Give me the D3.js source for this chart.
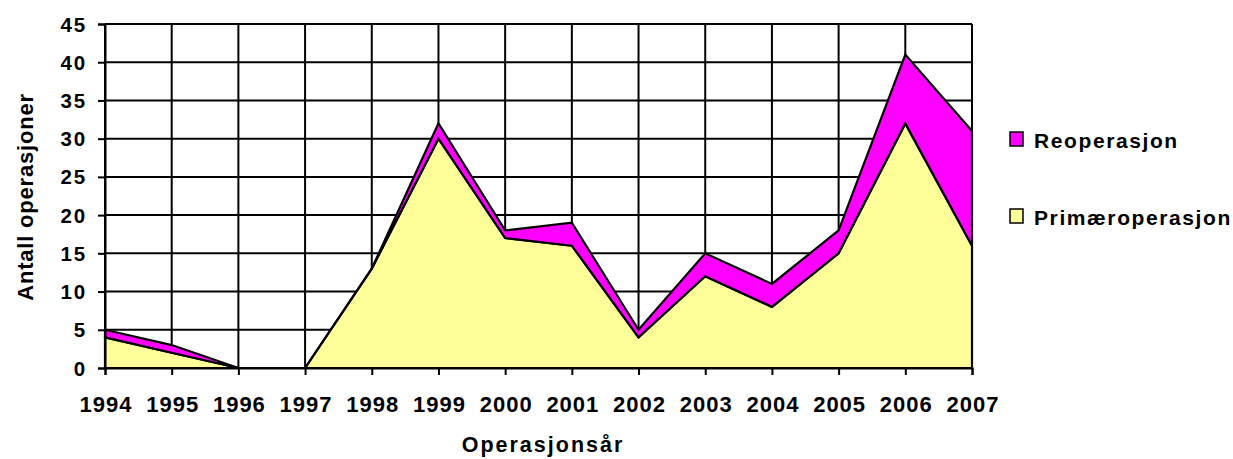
<!DOCTYPE html>
<html>
<head>
<meta charset="utf-8">
<script src="https://cdn.jsdelivr.net/npm/d3@7"></script>
<style>
  body { margin: 0; background: #fff; }
  svg text { font-family: "Liberation Sans", Arial, sans-serif; font-weight: bold; fill: #000; }
</style>
</head>
<body>
<svg id="chart" width="1233" height="459"></svg>
<script>
// Operations per year, split into primary and repeat operations
const years = ["1994","1995","1996","1997","1998","1999","2000","2001","2002","2003","2004","2005","2006","2007"];
const primaer = [4, 2, 0, 0, 13, 30, 17, 16, 4, 12, 8, 15, 32, 16];
const reop    = [1, 1, 0, 0, 0, 2, 1, 3, 1, 3, 3, 3, 9, 15];
const yTicks  = [0, 5, 10, 15, 20, 25, 30, 35, 40, 45];
const seriesNames = ["Reoperasjon", "Primæroperasjon"];
const colors = { "Primæroperasjon": "#ffff99", "Reoperasjon": "#ff00ff" };

const svg = d3.select("#chart");
const m = { left: 105, right: 972, top: 24, bottom: 368 };

const x = d3.scalePoint().domain(years).range([m.left, m.right]);
const y = d3.scaleLinear().domain([0, 45]).range([m.bottom, m.top]);

const rows = years.map((yr, i) => ({ year: yr, "Primæroperasjon": primaer[i], "Reoperasjon": reop[i] }));
const stacked = d3.stack().keys(["Primæroperasjon", "Reoperasjon"])(rows);

// grid
const g = svg.append("g");
g.selectAll(".hg").data(yTicks).join("line")
  .attr("x1", m.left).attr("x2", m.right)
  .attr("y1", d => y(d)).attr("y2", d => y(d))
  .attr("stroke", "#000").attr("stroke-width", 2);
g.selectAll(".vg").data(years).join("line")
  .attr("x1", d => x(d)).attr("x2", d => x(d))
  .attr("y1", m.top).attr("y2", m.bottom)
  .attr("stroke", "#000").attr("stroke-width", 2);

// stacked areas
const area = d3.area()
  .x((d, i) => x(years[i]))
  .y0(d => y(d[0]))
  .y1(d => y(d[1]));
svg.append("g").selectAll("path").data(stacked).join("path")
  .attr("d", area)
  .attr("fill", d => colors[d.key])
  .attr("stroke", "#000").attr("stroke-width", 2.2).attr("stroke-linejoin", "miter");

// axes
const yAxis = d3.axisLeft(y).tickValues(yTicks).tickSize(7);
const ya = svg.append("g").attr("transform", `translate(${m.left},0)`).call(yAxis);
ya.select(".domain").attr("stroke-width", 2);
ya.selectAll("line").attr("stroke-width", 2);
ya.selectAll("text")
  .attr("x", -18).attr("dy", 7)
  .style("font-size", "20.5px").style("letter-spacing", "1.8px")
  .style("font-family", "Liberation Sans, Arial").style("font-weight", "bold");

const xAxis = d3.axisBottom(x).tickSize(7);
const xa = svg.append("g").attr("transform", `translate(0,${m.bottom})`).call(xAxis);
xa.select(".domain").attr("stroke-width", 2);
xa.selectAll("line").attr("stroke-width", 2);
xa.selectAll("text")
  .attr("y", 44).attr("dy", 0).attr("dx", 0.5)
  .style("font-size", "22px").style("letter-spacing", "1px")
  .style("font-family", "Liberation Sans, Arial").style("font-weight", "bold");

// axis titles
svg.append("text")
  .attr("transform", "translate(33,197) rotate(-90)")
  .attr("text-anchor", "middle")
  .style("font-size", "22px").style("letter-spacing", "0.8px")
  .text("Antall operasjoner");
svg.append("text")
  .attr("x", 543).attr("y", 452)
  .attr("text-anchor", "middle")
  .style("font-size", "21.5px").style("letter-spacing", "2px")
  .text("Operasjonsår");

// legend
const leg = svg.append("g").selectAll("g").data(seriesNames).join("g")
  .attr("transform", (d, i) => `translate(1010,${132 + i * 77})`);
leg.append("rect").attr("width", 13).attr("height", 14)
  .attr("fill", d => colors[d]).attr("stroke", "#000").attr("stroke-width", 1.5);
leg.append("text").attr("x", 24).attr("y", 15.5)
  .style("font-size", "21px").style("letter-spacing", "1.6px").text(d => d);
</script>
</body>
</html>
